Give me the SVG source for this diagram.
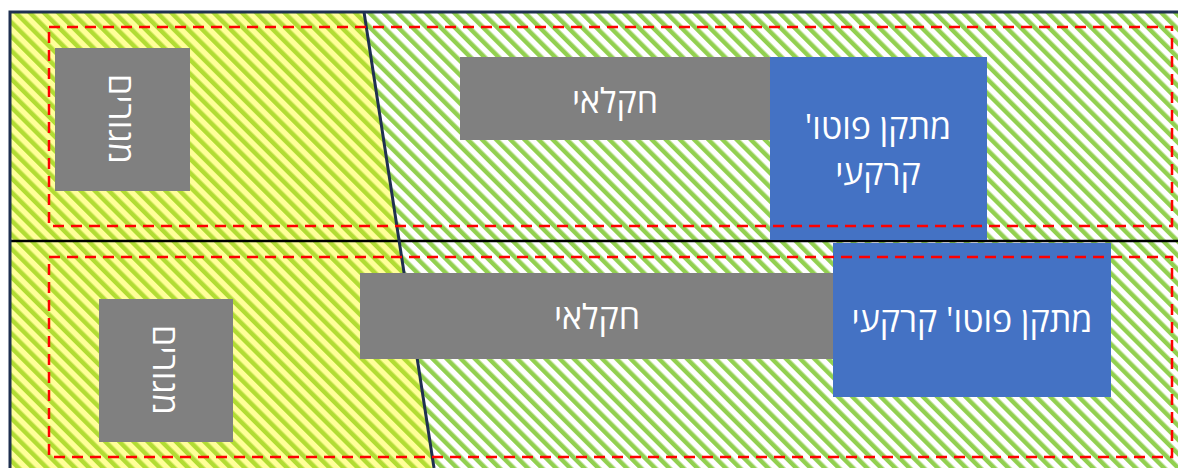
<svg xmlns="http://www.w3.org/2000/svg" width="1178" height="468" viewBox="0 0 1178 468">
  <defs>
    <pattern id="hatchYellow" patternUnits="userSpaceOnUse" width="10" height="10" patternTransform="rotate(-45)">
      <rect width="10" height="10" fill="#ffff99"/>
      <rect width="4.5" height="10" fill="#b2dc34"/>
    </pattern>
    <pattern id="hatchGreen" patternUnits="userSpaceOnUse" width="10" height="10" patternTransform="rotate(-45)">
      <rect width="10" height="10" fill="#ffffff"/>
      <rect width="4.5" height="10" fill="#92d050"/>
    </pattern>
    <style>
      .gray { fill: #808080; }
      .blue { fill: #4472c4; }
      .lbl { fill: #ffffff; font-family: "Open Sans", "DejaVu Sans", sans-serif; font-size: 34px; text-anchor: middle; dominant-baseline: central; }
      .zone { fill: none; stroke: #ff0000; stroke-width: 2.5; stroke-dasharray: 11 7; }
      .border { fill: none; stroke: #1f3050; stroke-width: 3; }
    </style>
  </defs>

  <g id="background">
    <rect x="0" y="0" width="1178" height="468" fill="#ffffff"/>
    <polygon points="10,12 364,12 434,468 10,468" fill="url(#hatchYellow)"/>
    <polygon points="364,12 1178,12 1178,468 434,468" fill="url(#hatchGreen)"/>
  </g>

  <g id="connectors">
    <line x1="10" y1="241" x2="1178" y2="241" stroke="#000000" stroke-width="2.5"/>
    <line class="border" x1="364" y1="12" x2="434" y2="468"/>
    <rect class="border" x="10" y="12" width="1180" height="470"/>
  </g>

  <g id="node-residential-top">
    <rect class="gray" x="55" y="48" width="135" height="143"/>
    <text class="lbl" direction="rtl" transform="rotate(90 122 119)" x="122" y="119">מגורים</text>
  </g>
  <g id="node-residential-bottom">
    <rect class="gray" x="99" y="299" width="134" height="143"/>
    <text class="lbl" direction="rtl" transform="rotate(90 166 370)" x="166" y="370">מגורים</text>
  </g>
  <g id="node-agri-top">
    <rect class="gray" x="460" y="57" width="312" height="83"/>
    <text class="lbl" direction="rtl" x="615" y="100">חקלאי</text>
  </g>
  <g id="node-agri-bottom">
    <rect class="gray" x="360" y="273" width="475" height="86"/>
    <text class="lbl" direction="rtl" x="597" y="316">חקלאי</text>
  </g>
  <g id="node-pv-top">
    <rect class="blue" x="770" y="57" width="217" height="183"/>
    <text class="lbl" direction="rtl" x="878" y="126">מתקן פוטו'</text>
    <text class="lbl" direction="rtl" x="878" y="172">קרקעי</text>
  </g>
  <g id="node-pv-bottom">
    <rect class="blue" x="833" y="243" width="278" height="154"/>
    <text class="lbl" direction="rtl" x="972" y="319">מתקן פוטו' קרקעי</text>
  </g>

  <g id="zones">
    <rect class="zone" x="49" y="27" width="1123" height="199"/>
    <rect class="zone" x="49" y="257" width="1123" height="200"/>
  </g>
</svg>
